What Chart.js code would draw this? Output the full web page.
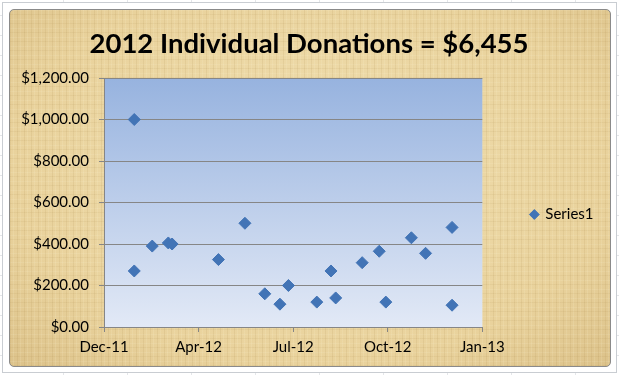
<!DOCTYPE html>
<html>
<head>
<meta charset="utf-8">
<script src="https://cdn.jsdelivr.net/npm/chart.js@4/dist/chart.umd.min.js"></script>
<style>
  html, body { margin: 0; padding: 0; }
  body {
    width: 619px; height: 375px; position: relative; overflow: hidden;
    background-color: #fff;
    background-image:
      repeating-linear-gradient(90deg, transparent 0 63px, #e4e6e9 63px 64px),
      repeating-linear-gradient(0deg, transparent 0 19px, #e4e6e9 19px 20px);
  }
  #frame-outer {
    position: absolute; left: 2px; top: 2px; width: 613px; height: 369px;
    border: 1px solid #c9cdd2; background: #fff;
  }
  #frame {
    position: absolute; left: 9px; top: 9px; width: 600px; height: 356px;
    border: 1px solid #8a8a8a; border-radius: 5px;
    background-color: #ead5a0;
    background-image:
      repeating-linear-gradient(90deg, rgba(150,115,50,0.10) 0 1px, transparent 1px 3px, rgba(255,250,220,0.12) 3px 4px, transparent 4px 7px),
      repeating-linear-gradient(0deg, rgba(150,115,50,0.08) 0 1px, transparent 1px 4px, rgba(255,250,225,0.10) 4px 5px, transparent 5px 9px),
      radial-gradient(ellipse at 50% 45%, #f0dfb0 0%, #e9d29c 70%, #dcc28a 100%);
  }
  canvas { position: absolute; left: 0; top: 0; }
</style>
</head>
<body>
<div id="frame-outer"></div>
<div id="frame"></div>
<canvas id="chart" width="619" height="375"></canvas>
<script>
// donation dates and amounts
const donationDates = [
  '2012-01-24', '2012-01-24', '2012-02-12', '2012-02-29', '2012-03-04',
  '2012-04-22', '2012-05-20', '2012-06-10', '2012-06-26', '2012-07-05',
  '2012-08-04', '2012-08-19', '2012-08-24', '2012-09-21', '2012-10-09',
  '2012-10-16', '2012-11-12', '2012-11-27', '2012-12-25', '2012-12-25'
];
const donationAmounts = [
  1000, 270, 390, 405, 400,
  325, 500, 160, 110, 200,
  120, 270, 140, 310, 365,
  120, 430, 355, 480, 105
];
const seriesName = 'Series1';
const chartTitle = '2012 Individual Donations = $6,455';

// axis ranges (x in Excel serial days)
const xAxisMin = 40900, xAxisMax = 41300, xAxisStep = 100;
const yAxisMin = 0, yAxisMax = 1200, yAxisStep = 200;
const monthNames = ['Jan', 'Feb', 'Mar', 'Apr', 'May', 'Jun', 'Jul', 'Aug', 'Sep', 'Oct', 'Nov', 'Dec'];

const EXCEL_EPOCH = Date.UTC(1899, 11, 30);
const toSerial = (s) => {
    const [y, m, d] = s.split('-').map(Number);
    return Math.round((Date.UTC(y, m - 1, d) - EXCEL_EPOCH) / 864e5);
};
const serialLabel = (v) => {
    const dt = new Date(EXCEL_EPOCH + v * 864e5);
    return monthNames[dt.getUTCMonth()] + '-' + String(dt.getUTCFullYear() % 100).padStart(2, '0');
};
const money = (v) => '$' + v.toLocaleString('en-US', { minimumFractionDigits: 2, maximumFractionDigits: 2 });

const points = donationDates.map((d, i) => ({ x: toSerial(d), y: donationAmounts[i] }));

// gradient fill behind the plot area
const plotBackground = {
    id: 'plotBackground',
    beforeDraw: (chart) => {
        const { ctx, chartArea: { left, top, right, bottom } } = chart;
        const g = ctx.createLinearGradient(0, top, 0, bottom);
        g.addColorStop(0, '#97b3df');
        g.addColorStop(1, '#e2e9f6');
        ctx.save();
        ctx.fillStyle = g;
        ctx.fillRect(left, top, right - left, bottom - top);
        ctx.restore();
    }
};

const markerColor = '#4274b6';
const axisGray = '#868686';
const fontFamily = 'Lato, "Noto Sans", sans-serif';

new Chart(document.getElementById('chart').getContext('2d'), {
    type: 'scatter',
    data: {
        datasets: [{
            label: seriesName,
            data: points,
            pointStyle: 'rectRot',
            pointRadius: 6,
            pointHoverRadius: 6,
            backgroundColor: markerColor,
            borderColor: markerColor,
            borderWidth: 1
        }]
    },
    options: {
        responsive: false,
        animation: false,
        devicePixelRatio: 1,
        layout: { padding: { top: 20, left: 14.5, right: 15.5, bottom: 0 } },
        scales: {
            x: {
                type: 'linear',
                min: xAxisMin,
                max: xAxisMax,
                afterBuildTicks: (scale) => {
                    const t = [];
                    for (let v = xAxisMin; v <= xAxisMax; v += xAxisStep) t.push({ value: v });
                    scale.ticks = t;
                },
                afterFit: (scale) => { scale.height = 48; },
                grid: { drawOnChartArea: false, color: axisGray, tickLength: 5 },
                border: { color: axisGray },
                ticks: {
                    color: '#000',
                    font: { family: fontFamily, size: 15 },
                    padding: 6,
                    maxRotation: 0,
                    callback: (v) => serialLabel(v)
                }
            },
            y: {
                min: yAxisMin,
                max: yAxisMax,
                afterFit: (scale) => { scale.width = 89.5; },
                grid: { color: axisGray, tickLength: 5 },
                border: { color: axisGray },
                ticks: {
                    stepSize: yAxisStep,
                    color: '#000',
                    font: { family: fontFamily, size: 15 },
                    padding: 10,
                    callback: (v) => money(v)
                }
            }
        },
        plugins: {
            title: {
                display: true,
                text: chartTitle,
                color: '#000',
                font: { family: fontFamily, size: 27.5, weight: 'bold' },
                padding: { top: 8, bottom: 17 }
            },
            legend: {
                position: 'right',
                // empty legend title only pushes the entry down a little
                title: { display: true, text: '', font: { size: 10 }, padding: { top: 22, bottom: 0 } },
                labels: {
                    usePointStyle: true,
                    pointStyle: 'rectRot',
                    boxWidth: 7,
                    boxHeight: 7,
                    color: '#000',
                    font: { family: fontFamily, size: 15 },
                    padding: 48.5
                }
            },
            tooltip: { enabled: false }
        }
    },
    plugins: [plotBackground]
});
</script>
</body>
</html>
